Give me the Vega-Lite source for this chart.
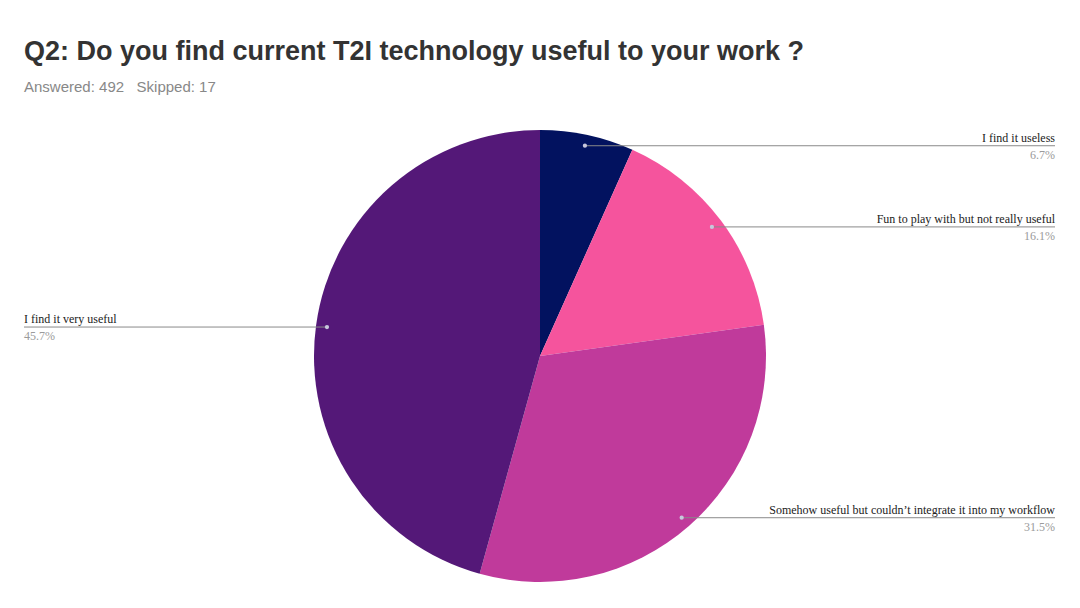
{
  "$schema": "https://vega.github.io/schema/vega-lite/v6.json",
  "width": 1080,
  "height": 508,
  "padding": {"top": 38, "left": 0, "right": 0, "bottom": 0},
  "autosize": {"type": "pad"},
  "background": "white",
  "title": {
    "text": "Q2: Do you find current T2I technology useful to your work ?",
    "subtitle": "Answered: 492 \u00a0\u00a0Skipped: 17",
    "anchor": "start",
    "frame": "group",
    "dx": 24,
    "font": "Liberation Sans",
    "fontSize": 27,
    "fontWeight": "bold",
    "color": "#333333",
    "subtitleFont": "Liberation Sans",
    "subtitleFontSize": 15,
    "subtitleColor": "#888888",
    "subtitlePadding": 14,
    "offset": 6
  },
  "config": {"view": {"stroke": null}},
  "data": {
    "values": [
      {"label": "I find it useless", "pct": 6.7},
      {"label": "Fun to play with but not really useful", "pct": 16.1},
      {"label": "Somehow useful but couldn’t integrate it into my workflow", "pct": 31.5},
      {"label": "I find it very useful", "pct": 45.7}
    ]
  },
  "transform": [
    {"window": [{"op": "sum", "field": "pct", "as": "cum"}, {"op": "row_number", "as": "idx"}], "frame": [null, 0]},
    {"calculate": "(datum.cum - datum.pct / 2) / 100 * 2 * PI", "as": "mid"},
    {"calculate": "215 * sin(datum.mid)", "as": "dotx"},
    {"calculate": "215 * cos(datum.mid)", "as": "doty"},
    {"calculate": "datum.dotx > 0 ? 515 : -516", "as": "edge"},
    {"calculate": "format(datum.pct, '.1f') + '%'", "as": "pctLabel"}
  ],
  "layer": [
    {
      "mark": {"type": "arc", "radius": 226},
      "encoding": {
        "theta": {"field": "pct", "type": "quantitative", "stack": true},
        "order": {"field": "idx", "type": "quantitative"},
        "color": {
          "field": "label",
          "type": "nominal",
          "scale": {
            "domain": ["I find it useless", "Fun to play with but not really useful", "Somehow useful but couldn’t integrate it into my workflow", "I find it very useful"],
            "range": ["#02125f", "#f5549d", "#c03a9b", "#541878"]
          },
          "legend": null
        }
      }
    },
    {
      "mark": {"type": "rule", "color": "#8a8a8a", "strokeWidth": 1},
      "encoding": {
        "x": {"field": "dotx", "type": "quantitative", "scale": {"domain": [-540, 540], "nice": false, "zero": false}, "axis": null},
        "x2": {"field": "edge"},
        "y": {"field": "doty", "type": "quantitative", "scale": {"domain": [-254, 254], "nice": false, "zero": false}, "axis": null}
      }
    },
    {
      "mark": {"type": "point", "filled": true, "size": 18, "color": "#c8c8dc", "opacity": 1},
      "encoding": {
        "x": {"field": "dotx", "type": "quantitative"},
        "y": {"field": "doty", "type": "quantitative"}
      }
    },
    {
      "transform": [{"filter": "datum.dotx > 0"}],
      "layer": [
        {
          "mark": {"type": "text", "align": "right", "baseline": "alphabetic", "dy": -4, "font": "Liberation Serif", "fontSize": 12, "color": "#222222"},
          "encoding": {
            "x": {"field": "edge", "type": "quantitative"},
            "y": {"field": "doty", "type": "quantitative"},
            "text": {"field": "label"}
          }
        },
        {
          "mark": {"type": "text", "align": "right", "baseline": "alphabetic", "dy": 13, "font": "Liberation Serif", "fontSize": 12, "color": "#9a9a9a"},
          "encoding": {
            "x": {"field": "edge", "type": "quantitative"},
            "y": {"field": "doty", "type": "quantitative"},
            "text": {"field": "pctLabel"}
          }
        }
      ]
    },
    {
      "transform": [{"filter": "datum.dotx <= 0"}],
      "layer": [
        {
          "mark": {"type": "text", "align": "left", "baseline": "alphabetic", "dy": -4, "font": "Liberation Serif", "fontSize": 12, "color": "#222222"},
          "encoding": {
            "x": {"field": "edge", "type": "quantitative"},
            "y": {"field": "doty", "type": "quantitative"},
            "text": {"field": "label"}
          }
        },
        {
          "mark": {"type": "text", "align": "left", "baseline": "alphabetic", "dy": 13, "font": "Liberation Serif", "fontSize": 12, "color": "#9a9a9a"},
          "encoding": {
            "x": {"field": "edge", "type": "quantitative"},
            "y": {"field": "doty", "type": "quantitative"},
            "text": {"field": "pctLabel"}
          }
        }
      ]
    }
  ]
}
